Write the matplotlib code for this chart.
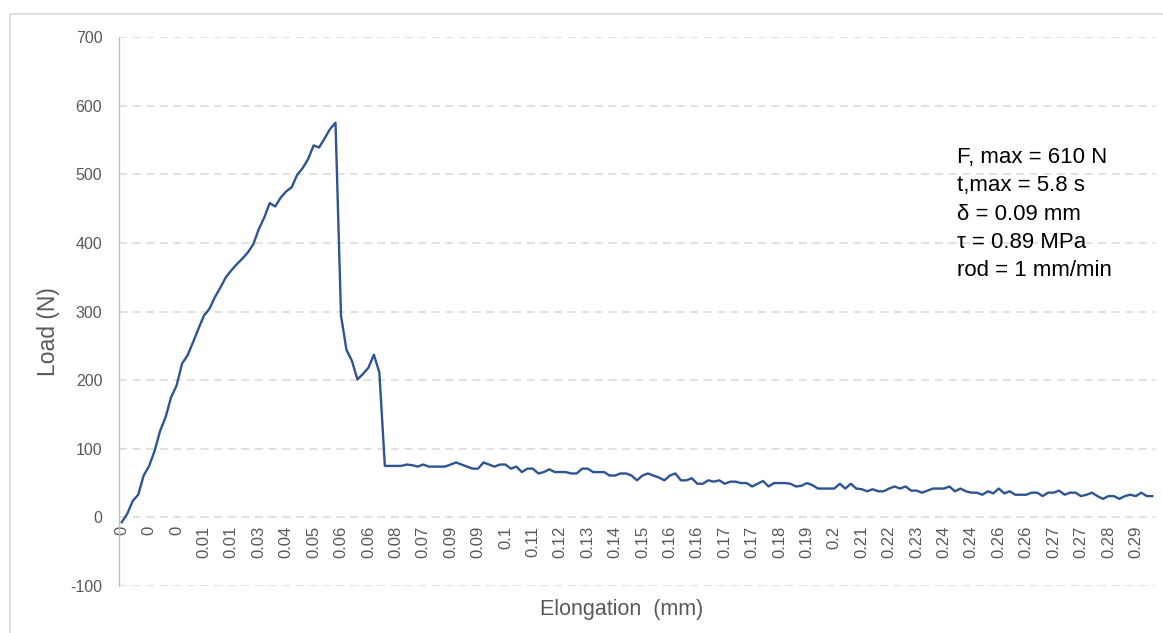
import matplotlib
matplotlib.use("Agg")
import matplotlib.pyplot as plt
from matplotlib.patches import Rectangle
from matplotlib.transforms import blended_transform_factory, offset_copy

# Load readings (N), one per sample, in acquisition order
load = [
    -7, 5, 24, 33, 61, 75, 97, 126, 146, 175,
    192, 224, 236, 255, 275, 294, 304, 321, 335, 350,
    360, 369, 377, 386, 398, 420, 437, 458, 453, 466,
    475, 481, 499, 509, 522, 542, 539, 552, 566, 575,
    294, 244, 228, 201, 209, 218, 237, 211, 75, 75,
    75, 75, 77, 76, 74, 77, 74, 74, 74, 74,
    77, 80, 77, 74, 71, 71, 80, 77, 74, 77,
    77, 71, 74, 66, 71, 71, 64, 66, 70, 66,
    66, 66, 64, 64, 71, 71, 66, 66, 66, 61,
    61, 64, 64, 61, 54, 61, 64, 61, 58, 54,
    61, 64, 54, 54, 57, 49, 49, 54, 52, 54,
    49, 52, 52, 50, 50, 45, 49, 53, 45, 50,
    50, 50, 49, 45, 46, 50, 47, 42, 42, 42,
    42, 49, 42, 49, 42, 41, 38, 41, 38, 38,
    42, 45, 42, 45, 39, 39, 36, 39, 42, 42,
    42, 45, 38, 42, 38, 36, 36, 33, 38, 35,
    42, 35, 38, 33, 33, 33, 36, 36, 31, 36,
    36, 39, 33, 36, 36, 31, 33, 36, 31, 27,
    31, 31, 27, 31, 33, 31, 36, 31, 31,
]

# Elongation category labels (mm), shown on every 5th sample
elong_labels = [
    "0", "0", "0", "0.01", "0.01", "0.03", "0.04", "0.05", "0.06", "0.06",
    "0.08", "0.07", "0.09", "0.09", "0.1", "0.11", "0.12", "0.13", "0.14", "0.15",
    "0.16", "0.16", "0.17", "0.17", "0.18", "0.19", "0.2", "0.21", "0.22", "0.23",
    "0.24", "0.24", "0.26", "0.26", "0.27", "0.27", "0.28", "0.29",
]
label_step = 5

y_ticks = [-100, 0, 100, 200, 300, 400, 500, 600, 700]

info_lines = [
    "F, max = 610 N",
    "t,max = 5.8 s",
    "\u03b4 = 0.09 mm",
    "\u03c4 = 0.89 MPa",
    "rod = 1 mm/min",
]

W, H = 1163, 633
plt.rcParams["font.family"] = ["Liberation Sans", "DejaVu Sans"]
fig = plt.figure(figsize=(W / 100, H / 100), dpi=100)
fig.patch.set_facecolor("white")

# chart-area frame
fig.add_artist(Rectangle((10 / W, -0.1), 2.0, (H - 14) / H + 0.1,
                         transform=fig.transFigure, fill=False,
                         edgecolor="#D9D9D9", linewidth=1.2, zorder=0))

ax = fig.add_axes([119 / W, 1 - 586 / H, (1155 - 119) / W, (586 - 37) / H])
n = len(load)
xs = list(range(n))
ax.set_xlim(-0.5, n - 0.5)
ax.set_ylim(-100, 700)

grey = "#595959"
for v in y_ticks:
    ax.axhline(v, color="#D9D9D9", linewidth=1.1,
               linestyle=(0, (5.2, 3.7)), zorder=1)

ax.plot(xs, load, color="#2E5590", linewidth=1.7, zorder=3,
        solid_joinstyle="round")

for s in ["top", "right", "bottom"]:
    ax.spines[s].set_visible(False)
ax.spines["left"].set_color("#BFBFBF")
ax.spines["left"].set_linewidth(1.0)

ax.set_yticks(y_ticks)
ax.set_yticklabels([str(v) for v in y_ticks])
ax.tick_params(axis="y", length=0, pad=12, labelsize=11.5, labelcolor=grey)
ax.set_xticks([])

# category labels hang from the zero line
trans = offset_copy(blended_transform_factory(ax.transData, ax.transData),
                    fig=fig, x=0, y=-6, units="points")
for k, lab in enumerate(elong_labels):
    ax.text(k * label_step, 0, lab, rotation=90, ha="center", va="top",
            fontsize=12, color=grey, transform=trans, zorder=2)

fig.text(49 / W, 1 - 332 / H, "Load (N)", rotation=90, ha="center",
         va="center", fontsize=16.5, color=grey)
fig.text(622 / W, 1 - 609 / H, "Elongation  (mm)", ha="center",
         va="center", fontsize=15.5, color=grey)

fig.text(957 / W, 1 - 147 / H, "\n".join(info_lines), ha="left", va="top",
         fontsize=16, color="black", linespacing=1.46)

fig.savefig("out.png", dpi=100, facecolor="white")
